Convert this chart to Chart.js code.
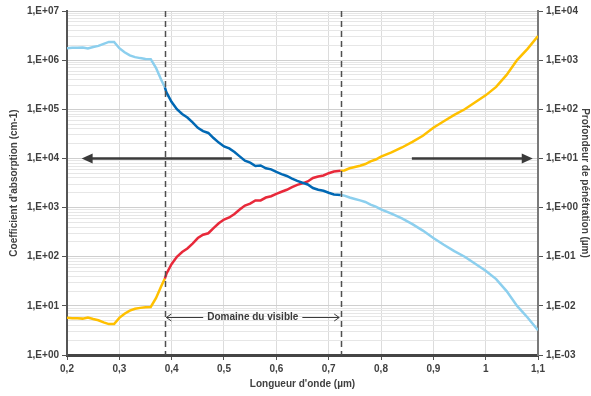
<!DOCTYPE html>
<html>
<head>
<meta charset="utf-8">
<script src="https://cdn.jsdelivr.net/npm/chart.js@4.4.1/dist/chart.umd.min.js"></script>
<style>
  html, body { margin: 0; padding: 0; background: #fff; }
  #wrap { width: 591px; height: 396px; }
</style>
</head>
<body>
<div id="wrap"><canvas id="chart"></canvas></div>
<script>
// Données (longueur d'onde en µm)
const wavelengths = [
  0.20, 0.21, 0.22, 0.23, 0.24, 0.25, 0.26, 0.27, 0.28, 0.29,
  0.30, 0.31, 0.32, 0.33, 0.34, 0.35, 0.36, 0.37, 0.38, 0.387,
  0.39, 0.40, 0.41, 0.42, 0.43, 0.44, 0.45, 0.46, 0.47, 0.48,
  0.49, 0.50, 0.51, 0.52, 0.53, 0.54, 0.55, 0.56, 0.57, 0.58,
  0.59, 0.60, 0.61, 0.62, 0.63, 0.64, 0.65, 0.66, 0.67, 0.68,
  0.69, 0.70, 0.71, 0.723, 0.73, 0.74, 0.75, 0.76, 0.77, 0.78,
  0.79, 0.80, 0.82, 0.84, 0.86, 0.88, 0.90, 0.92, 0.94, 0.96,
  0.98, 1.00, 1.02, 1.04, 1.06, 1.08, 1.10
];
// Coefficient d'absorption (cm-1)
const absorption = [
  1.75e6, 1.78e6, 1.78e6, 1.80e6, 1.72e6, 1.85e6, 1.95e6, 2.15e6, 2.35e6, 2.35e6,
  1.75e6, 1.45e6, 1.25e6, 1.15e6, 1.10e6, 1.06e6, 1.05e6, 7.0e5, 4.0e5, 2.8e5,
  2.2e5, 1.4e5, 1.0e5, 8.0e4, 6.8e4, 5.4e4, 4.2e4, 3.6e4, 3.3e4, 2.6e4,
  2.1e4, 1.75e4, 1.6e4, 1.35e4, 1.1e4, 9.0e3, 8.2e3, 7.0e3, 7.2e3, 6.3e3,
  6.0e3, 5.3e3, 4.8e3, 4.4e3, 3.9e3, 3.5e3, 3.2e3, 2.95e3, 2.5e3, 2.3e3,
  2.2e3, 2.0e3, 1.85e3, 1.8e3, 1.75e3, 1.6e3, 1.5e3, 1.4e3, 1.3e3, 1.15e3,
  1.05e3, 920, 750, 600, 460, 340, 240, 175, 130, 100,
  72, 52, 35, 20, 10, 5.8, 3.2
];
// Profondeur de pénétration (µm)
const penetration = [
  5.7e-3, 5.6e-3, 5.6e-3, 5.5e-3, 5.8e-3, 5.4e-3, 5.1e-3, 4.6e-3, 4.25e-3, 4.25e-3,
  5.7e-3, 6.9e-3, 8.0e-3, 8.7e-3, 9.1e-3, 9.4e-3, 9.5e-3, 1.43e-2, 2.5e-2, 3.6e-2,
  4.5e-2, 7.1e-2, 0.10, 0.125, 0.147, 0.185, 0.24, 0.28, 0.30, 0.38,
  0.48, 0.57, 0.63, 0.74, 0.91, 1.1, 1.2, 1.4, 1.4, 1.6,
  1.7, 1.9, 2.1, 2.3, 2.6, 2.9, 3.1, 3.4, 4.0, 4.3,
  4.5, 5.0, 5.4, 5.6, 5.7, 6.3, 6.7, 7.1, 7.7, 8.7,
  9.5, 10.9, 13.3, 16.7, 21.7, 29, 42, 57, 77, 100,
  139, 192, 286, 500, 1000, 1700, 3100
];

const xTicks = [0.2, 0.3, 0.4, 0.5, 0.6, 0.7, 0.8, 0.9, 1, 1.1];
const leftDecades = [0, 1, 2, 3, 4, 5, 6, 7];
const rightDecades = [-3, -2, -1, 0, 1, 2, 3, 4];
const visibleRange = [0.387, 0.723];
const leftArrow = [0.515, 0.228];   // de -> vers, à 1E+04
const rightArrow = [0.859, 1.09];
const arrowLevel = 1e4;
const visibleLabel = 'Domaine du visible';
const visibleLabelLevel = 6;

const LIGHT_BLUE = '#8ccfee';
const DARK_BLUE = '#0068b4';
const YELLOW = '#ffc000';
const RED = '#e8293a';
const INK = '#3a3a3a';

const FONT = { family: '"Liberation Sans", Arial, sans-serif', size: 10, weight: 'bold' };

function fmtExp(v) {
  const e = Math.round(Math.log10(v));
  const s = String(Math.abs(e)).padStart(2, '0');
  return '1,E' + (e < 0 ? '-' : '+') + s;
}

function isPow10(v) {
  const l = Math.log10(v);
  return Math.abs(l - Math.round(l)) < 1e-9;
}

function inVisible(ctx) {
  return ctx.p0.parsed.x >= visibleRange[0] - 1e-9 && ctx.p1.parsed.x <= visibleRange[1] + 1e-9;
}

function arrowHead(c, x, y, dir, len, half) {
  c.beginPath();
  c.moveTo(x, y);
  c.lineTo(x - dir * len, y - half);
  c.lineTo(x - dir * len, y + half);
  c.closePath();
  c.fill();
}

// Annotations : pointillés, flèches, étiquette
const overlay = {
  id: 'overlay',
  afterDatasetsDraw(chart) {
    const c = chart.ctx;
    const xs = chart.scales.x, ys = chart.scales.y;
    const area = chart.chartArea;
    c.save();

    // lignes du domaine visible
    c.strokeStyle = '#505050';
    c.lineWidth = 1.5;
    c.setLineDash([6, 4]);
    visibleRange.forEach(v => {
      const px = Math.round(xs.getPixelForValue(v)) + 0.5;
      c.beginPath();
      c.moveTo(px, area.top);
      c.lineTo(px, area.bottom);
      c.stroke();
    });
    c.setLineDash([]);

    // grosses flèches
    c.strokeStyle = INK;
    c.fillStyle = INK;
    c.lineWidth = 2.5;
    const ay = ys.getPixelForValue(arrowLevel);
    [leftArrow, rightArrow].forEach(a => {
      const x0 = xs.getPixelForValue(a[0]);
      const x1 = xs.getPixelForValue(a[1]);
      const dir = x1 > x0 ? 1 : -1;
      c.beginPath();
      c.moveTo(x0, ay);
      c.lineTo(x1 - dir * 8, ay);
      c.stroke();
      arrowHead(c, x1, ay, dir, 11, 5);
    });

    // domaine du visible
    const ly = Math.round(ys.getPixelForValue(visibleLabelLevel)) + 0.5;
    const lx0 = xs.getPixelForValue(visibleRange[0]) + 1.5;
    const lx1 = xs.getPixelForValue(visibleRange[1]) - 1.5;
    const mid = (lx0 + lx1) / 2;
    c.font = 'bold 10px "Liberation Sans", Arial, sans-serif';
    c.textAlign = 'center';
    c.textBaseline = 'middle';
    const tw = c.measureText(visibleLabel).width;
    c.fillText(visibleLabel, mid, ly);
    c.lineWidth = 1;
    c.beginPath();
    c.moveTo(lx0, ly); c.lineTo(mid - tw / 2 - 4, ly);
    c.moveTo(mid + tw / 2 + 4, ly); c.lineTo(lx1, ly);
    c.moveTo(lx0 + 5, ly - 3.5); c.lineTo(lx0, ly); c.lineTo(lx0 + 5, ly + 3.5);
    c.moveTo(lx1 - 5, ly - 3.5); c.lineTo(lx1, ly); c.lineTo(lx1 - 5, ly + 3.5);
    c.stroke();

    c.restore();
  }
};

new Chart(document.getElementById('chart'), {
  type: 'line',
  data: {
    datasets: [
      {
        label: "Coefficient d'absorption",
        data: wavelengths.map((x, i) => ({ x, y: absorption[i] })),
        yAxisID: 'y',
        borderColor: LIGHT_BLUE,
        borderWidth: 2.5,
        pointRadius: 0,
        segment: { borderColor: ctx => inVisible(ctx) ? DARK_BLUE : LIGHT_BLUE }
      },
      {
        label: 'Profondeur de pénétration',
        data: wavelengths.map((x, i) => ({ x, y: penetration[i] })),
        yAxisID: 'y2',
        borderColor: YELLOW,
        borderWidth: 2.5,
        pointRadius: 0,
        segment: { borderColor: ctx => inVisible(ctx) ? RED : YELLOW }
      }
    ]
  },
  options: {
    responsive: true,
    maintainAspectRatio: false,
    animation: false,
    layout: { padding: { top: 11, left: 0, right: 0, bottom: 0 } },
    plugins: { legend: { display: false }, tooltip: { enabled: false } },
    scales: {
      x: {
        type: 'linear',
        min: 0.2,
        max: 1.1,
        afterBuildTicks: s => { s.ticks = xTicks.map(v => ({ value: v })); },
        afterFit: s => { s.height = 41; },
        ticks: {
          font: FONT, color: '#404040', padding: 3, maxRotation: 0,
          callback: v => String(v).replace('.', ',')
        },
        grid: { color: '#dcdcdc', tickColor: '#555', tickLength: 5 },
        border: { color: '#454545', width: 3 },
        title: {
          display: true, text: "Longueur d'onde (µm)",
          font: FONT, color: '#404040', padding: { top: 0, bottom: 6 }
        }
      },
      y: {
        type: 'logarithmic',
        position: 'left',
        min: 1,
        max: 1e7,
        afterBuildTicks: s => {
          const t = [];
          leftDecades.forEach(e => {
            for (let m = 1; m <= 9; m++) {
              if (e === 7 && m > 1) break;
              t.push({ value: m * Math.pow(10, e) });
            }
          });
          s.ticks = t;
        },
        afterFit: s => { s.width = 67; },
        ticks: {
          font: FONT, color: '#404040', padding: 3, autoSkip: false,
          callback: v => isPow10(v) ? fmtExp(v) : ''
        },
        grid: {
          color: ctx => ctx.tick && isPow10(ctx.tick.value) ? '#cfcfcf' : '#e6e6e6',
          tickColor: ctx => ctx.tick && isPow10(ctx.tick.value) ? '#555' : 'rgba(0,0,0,0)',
          tickLength: 5
        },
        border: { color: '#555', width: 2 },
        title: {
          display: true, text: "Coefficient d'absorption (cm-1)",
          font: FONT, color: '#404040', padding: { top: 8, bottom: 0 }
        }
      },
      y2: {
        type: 'logarithmic',
        position: 'right',
        min: 1e-3,
        max: 1e4,
        afterBuildTicks: s => { s.ticks = rightDecades.map(e => ({ value: Math.pow(10, e) })); },
        afterFit: s => { s.width = 53; },
        ticks: {
          font: FONT, color: '#404040', padding: 3, autoSkip: false,
          callback: v => fmtExp(v)
        },
        grid: { drawOnChartArea: false, tickColor: '#555', tickLength: 5 },
        border: { color: '#7a7a7a', width: 2 },
        title: {
          display: true, text: 'Profondeur de pénétration (µm)',
          font: FONT, color: '#404040', padding: { top: 0, bottom: 0 }
        }
      }
    }
  },
  plugins: [overlay]
});
</script>
</body>
</html>
